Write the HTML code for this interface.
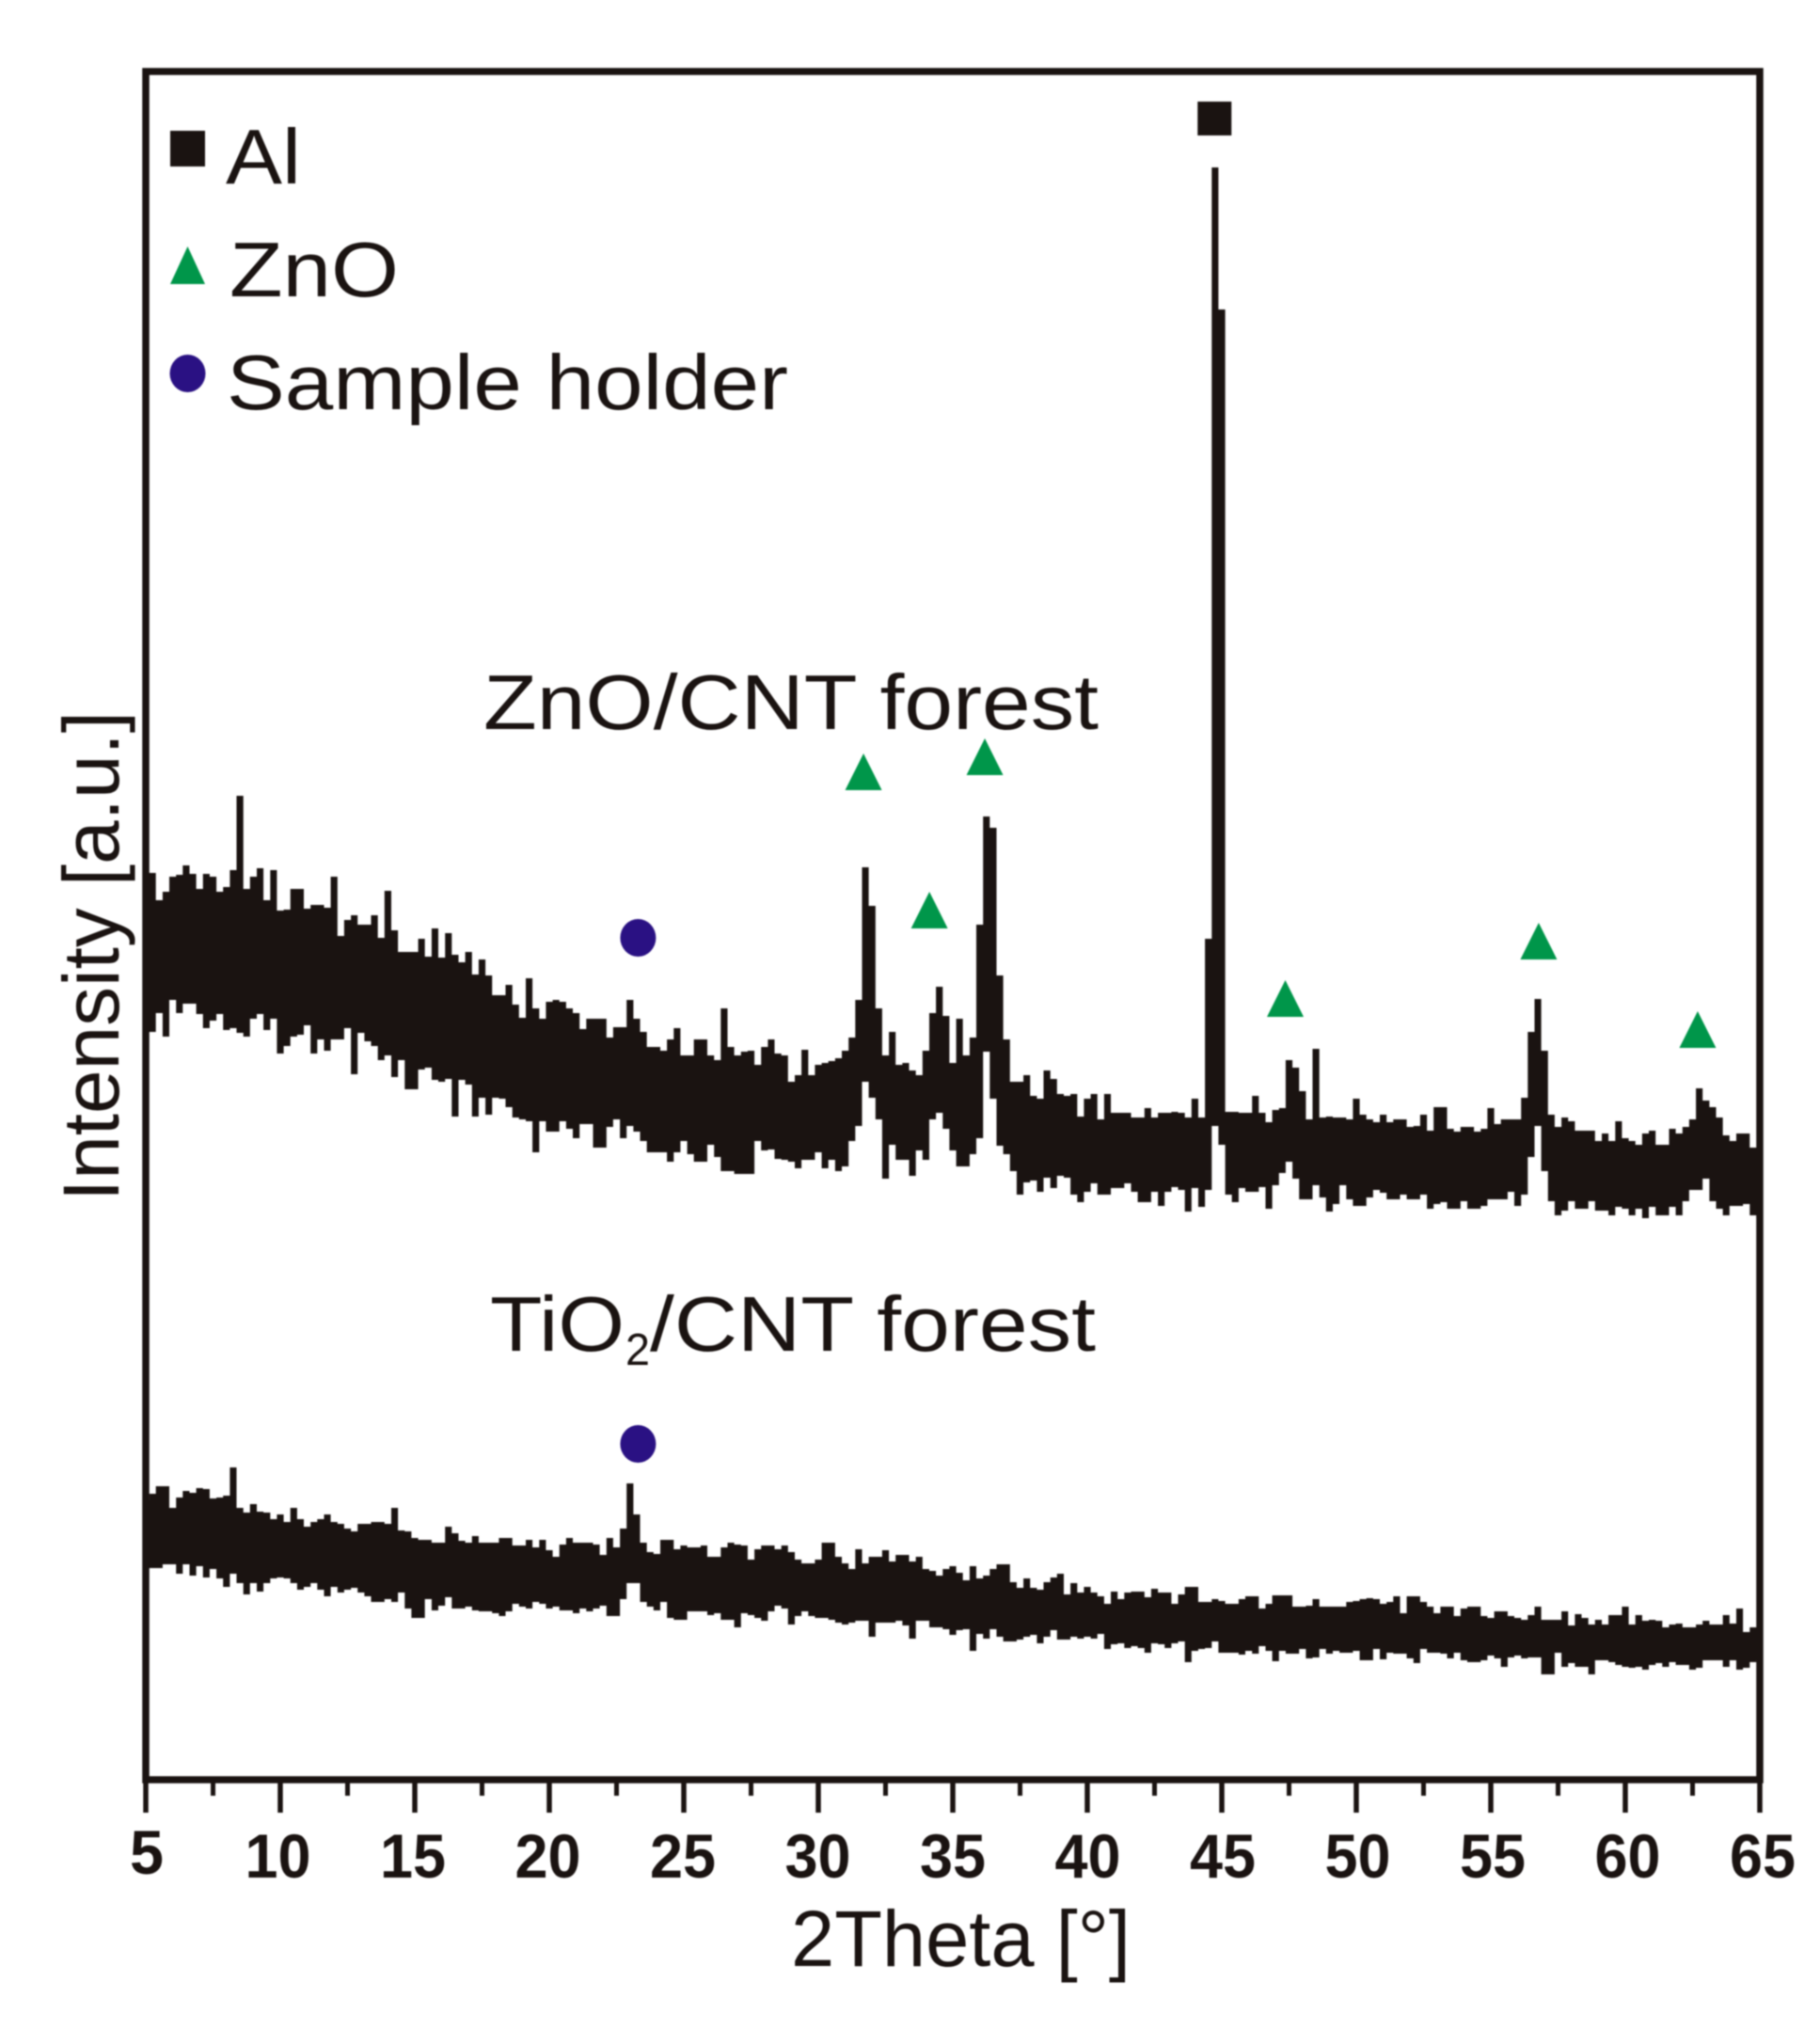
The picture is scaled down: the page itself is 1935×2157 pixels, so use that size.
<!DOCTYPE html>
<html lang="en">
<head>
<meta charset="utf-8">
<title>XRD patterns of ZnO/CNT and TiO2/CNT forests</title>
<style>
html,body{margin:0;padding:0;background:#fff;}
svg{display:block;filter:blur(0.7px);}
text{font-family:"Liberation Sans",Arial,sans-serif;fill:#1a1311;}
</style>
</head>
<body>
<svg id="chart" xmlns="http://www.w3.org/2000/svg" width="1935" height="2157" viewBox="0 0 1935 2157">
  <rect x="0" y="0" width="1935" height="2157" fill="#fff"/>
  <g id="traces"></g>
  <g id="marks"></g>
  <rect x="155" y="76" width="1716" height="1816" fill="none" stroke="#1a1311" stroke-width="7.5"/>
  <g id="ticks"></g>

  <g>
    <rect x="181" y="139" width="37" height="38" fill="#1a1311"/>
    <text x="240" y="195" font-size="83" textLength="80" lengthAdjust="spacingAndGlyphs">Al</text>
    <polygon points="199.5,262 218,302 181,302" fill="#00964a"/>
    <text x="244" y="315" font-size="83" textLength="180" lengthAdjust="spacingAndGlyphs">ZnO</text>
    <ellipse cx="199.5" cy="397" rx="19" ry="20" fill="#2a1183"/>
    <text x="241" y="435" font-size="83" textLength="597" lengthAdjust="spacingAndGlyphs">Sample holder</text>
  </g>

  <text x="514" y="775" font-size="83" textLength="654" lengthAdjust="spacingAndGlyphs">ZnO/CNT forest</text>
  <g>
    <text x="521" y="1436" font-size="83" textLength="143" lengthAdjust="spacingAndGlyphs">TiO</text>
    <text x="665" y="1451" font-size="48" textLength="26" lengthAdjust="spacingAndGlyphs">2</text>
    <text x="691" y="1436" font-size="83" textLength="474" lengthAdjust="spacingAndGlyphs">/CNT forest</text>
  </g>

  <text transform="translate(126,1277) rotate(-90)" font-size="84" textLength="521" lengthAdjust="spacingAndGlyphs">Intensity [a.u.]</text>
  <text x="841" y="2090" font-size="84" textLength="361" lengthAdjust="spacingAndGlyphs">2Theta [°]</text>
</svg>

<script>
// ---- chart data (2Theta in degrees, intensity in arbitrary units) ----
const thetaStart = 5;
const thetaStep = 0.25;
const xTickLabels = [5,10,15,20,25,30,35,40,45,50,55,60,65];
const xMinorTicks = [7.5,12.5,17.5,22.5,27.5,32.5,37.5,42.5,47.5,52.5,57.5,62.5];

const znoUpper = [
961,960,931,940,956,958,968,959,943,959,
956,940,945,963,1042,943,956,965,931,963,
920,921,943,943,922,926,926,923,956,893,
910,915,905,905,915,891,941,899,876,876,
876,890,871,901,870,896,873,865,876,852,
868,851,830,830,841,820,806,848,816,805,
823,825,823,816,811,794,805,805,805,785,
796,796,825,805,791,775,775,771,783,795,
766,766,783,783,766,761,816,775,766,770,
771,756,775,783,768,766,738,745,772,745,
756,758,760,763,771,785,825,966,925,816,
766,791,756,758,750,745,771,811,839,808,
758,805,766,785,905,1020,1008,851,783,738,
738,745,723,720,750,741,725,723,725,701,
720,725,698,725,705,705,705,700,700,710,
700,705,705,706,705,700,720,700,890,1710,
1559,706,706,705,705,723,705,695,708,710,
761,753,728,698,773,700,701,700,700,698,
720,703,698,695,703,695,698,698,690,691,
703,686,711,711,688,685,690,690,685,688,
710,693,698,698,698,721,791,826,771,703,
690,700,696,686,686,686,675,683,675,696,
678,675,671,683,686,671,671,688,683,690,
698,731,718,711,700,681,675,683,683,668,
668];
const znoLower = [
790,791,811,786,825,811,821,821,810,795,
803,810,793,795,790,786,805,810,793,805,
768,776,786,788,798,768,783,771,783,783,
795,746,790,781,776,761,766,743,761,730,
730,751,753,740,738,741,701,740,735,701,
721,703,721,720,711,700,698,696,663,696,
685,685,696,688,678,693,693,668,668,690,
698,678,691,685,675,663,663,663,653,663,
675,661,653,653,671,658,643,643,640,640,
640,675,665,666,656,655,653,646,655,655,
663,646,655,643,648,675,691,738,721,698,
635,671,655,655,638,665,655,698,705,688,
665,648,648,661,678,770,720,670,661,643,
618,631,633,621,636,625,638,636,618,610,
621,630,618,618,625,625,630,621,610,610,
621,606,621,626,623,600,625,605,623,691,
671,618,610,625,621,621,626,603,628,641,
653,635,613,613,628,615,600,608,628,613,
606,606,615,623,620,613,613,618,613,613,
618,603,608,610,603,603,611,603,603,606,
613,613,613,621,606,618,658,691,643,611,
596,601,611,603,603,611,601,601,596,605,
603,596,603,593,605,596,596,605,596,611,
623,623,635,611,603,596,606,606,608,596,
593];
const tioUpper = [
293,300,308,308,285,296,303,301,306,305,
295,296,298,328,285,280,289,281,280,273,
278,270,285,273,265,270,273,278,270,268,
263,260,268,268,270,270,268,285,261,260,
253,251,251,248,248,265,258,250,248,255,
248,248,248,253,253,245,245,251,243,251,
240,233,246,253,248,248,248,246,235,253,
243,263,311,278,248,238,236,251,251,241,
245,243,243,245,233,233,243,248,246,245,
230,241,245,245,241,245,238,230,226,226,
230,248,248,233,226,220,241,226,233,233,
240,228,235,235,228,233,220,218,213,220,
223,216,208,223,210,213,220,225,225,206,
200,210,200,198,206,211,215,193,205,195,
201,195,191,183,196,188,195,196,196,190,
199,195,195,183,193,201,201,185,185,188,
186,183,183,188,191,191,178,183,192,192,
192,180,180,181,188,180,180,180,180,185,
186,188,189,188,183,185,191,173,191,191,
185,180,173,180,180,170,178,180,180,170,
168,175,175,170,168,166,171,180,166,166,
166,175,160,172,168,161,166,161,171,171,
180,161,171,165,166,165,158,161,162,158,
158,161,165,161,161,171,162,178,153,158,
158];
const tioLower = [
220,221,221,225,225,215,225,213,223,211,
220,210,201,215,205,193,205,196,205,210,
211,210,205,198,201,205,198,191,201,195,
198,200,195,191,185,185,188,185,195,178,
168,168,188,176,181,190,178,178,180,176,
175,175,173,170,175,183,180,178,185,183,
178,180,176,176,173,178,175,178,181,170,
170,188,205,205,185,180,176,185,168,166,
166,175,175,175,171,173,166,166,158,173,
171,168,165,175,181,178,161,170,175,170,
168,168,166,163,161,163,165,165,148,163,
163,163,165,160,146,165,165,158,158,156,
150,155,156,133,151,146,156,148,143,143,
145,148,150,141,148,155,145,145,148,146,
148,146,151,135,140,141,136,138,136,131,
141,140,136,141,143,121,133,135,136,143,
131,131,131,129,133,130,138,133,122,133,
130,130,135,125,126,135,130,133,131,131,
133,123,123,135,124,131,130,130,125,120,
135,131,131,130,125,131,123,121,121,123,
128,125,116,126,128,125,126,126,108,108,
131,116,120,116,116,108,123,123,121,118,
116,115,116,113,118,120,116,121,118,118,
113,115,123,123,123,116,123,113,115,121,
123];

const alPeakTheta = [44.73];
const alPeakLevel = [1762];
const znoPeakTheta = [31.68,36.19,34.13,47.36,56.78,62.69];
const znoPeakLevel = [1048,1064,901,807,868,774];
const holderPeakTheta = [23.3,23.3];
const holderPeakLevel = [891,353];

// ---- axis functions ----
const xRange = [155,1871];
const xDomain = [5,65];
const yRange = [1892,75];
const yDomain = [-4,1813];
function xScale(t){ return xRange[0]+(t-xDomain[0])*(xRange[1]-xRange[0])/(xDomain[1]-xDomain[0]); }
function yScale(v){ return yRange[0]+(v-yDomain[0])*(yRange[1]-yRange[0])/(yDomain[1]-yDomain[0]); }

const NS = 'http://www.w3.org/2000/svg';
function make(tag, parent){
  const el = document.createElementNS(NS, tag);
  parent.appendChild(el);
  return el;
}

// ---- traces: stepped band between the upper and lower envelope ----
function bandPath(upper, lower){
  const half = xScale(thetaStart+thetaStep/2)-xScale(thetaStart);
  const n = upper.length;
  const clampX = function(x){ return Math.min(xRange[1], Math.max(xRange[0], x)); };
  let d = '';
  for(let i=0;i<n;i++){
    const x = xScale(thetaStart+i*thetaStep);
    const y = yScale(upper[i]);
    d += (i===0?'M':'L')+clampX(x-half).toFixed(1)+' '+y.toFixed(1)+'L'+clampX(x+half).toFixed(1)+' '+y.toFixed(1);
  }
  for(let i=n-1;i>=0;i--){
    const x = xScale(thetaStart+i*thetaStep);
    const y = yScale(lower[i]);
    d += 'L'+clampX(x+half).toFixed(1)+' '+y.toFixed(1)+'L'+clampX(x-half).toFixed(1)+' '+y.toFixed(1);
  }
  return d+'Z';
}
const traces = document.getElementById('traces');
const znoTrace = make('path', traces);
znoTrace.setAttribute('d', bandPath(znoUpper, znoLower));
znoTrace.setAttribute('fill', '#1a1311');


const tioTrace = make('path', traces);
tioTrace.setAttribute('d', bandPath(tioUpper, tioLower));
tioTrace.setAttribute('fill', '#1a1311');



// ---- peak markers ----
const marks = document.getElementById('marks');
alPeakTheta.forEach(function(t, i){
  const r = make('rect', marks);
  r.setAttribute('x', xScale(t)-18);
  r.setAttribute('y', yScale(alPeakLevel[i])-18);
  r.setAttribute('width', 36);
  r.setAttribute('height', 36);
  r.setAttribute('fill', '#1a1311');
  
  
});
znoPeakTheta.forEach(function(t, i){
  const p = make('polygon', marks);
  const cx = xScale(t), by = yScale(znoPeakLevel[i]);
  p.setAttribute('points', cx+','+(by-39)+' '+(cx+19.5)+','+by+' '+(cx-19.5)+','+by);
  p.setAttribute('fill', '#00964a');
  
  
});
holderPeakTheta.forEach(function(t, i){
  const c = make('ellipse', marks);
  c.setAttribute('cx', xScale(t));
  c.setAttribute('cy', yScale(holderPeakLevel[i]));
  c.setAttribute('rx', 19);
  c.setAttribute('ry', 20);
  c.setAttribute('fill', '#2a1183');
  
  
});

// ---- x axis ticks and labels ----
const ticks = document.getElementById('ticks');
const axisY = yRange[0];
xTickLabels.forEach(function(t, i){
  const l = make('line', ticks);
  l.setAttribute('x1', xScale(t));
  l.setAttribute('x2', xScale(t));
  l.setAttribute('y1', axisY);
  l.setAttribute('y2', axisY+35);
  l.setAttribute('stroke', '#1a1311');
  l.setAttribute('stroke-width', 5.5);
  
  
  const txt = make('text', ticks);
  txt.textContent = String(t);
  const w = String(t).length === 1 ? 36 : 70;
  const nudge = i === 0 ? 1 : (t-35)*0.1;
  txt.setAttribute('x', xScale(t)+nudge-w/2);
  txt.setAttribute('y', i === 0 ? 1992 : 1996);
  txt.setAttribute('font-size', 66);
  txt.setAttribute('font-weight', 'bold');
  txt.setAttribute('textLength', w);
  txt.setAttribute('lengthAdjust', 'spacingAndGlyphs');
  
  
});
xMinorTicks.forEach(function(t){
  const l = make('line', ticks);
  l.setAttribute('x1', xScale(t));
  l.setAttribute('x2', xScale(t));
  l.setAttribute('y1', axisY);
  l.setAttribute('y2', axisY+17);
  l.setAttribute('stroke', '#1a1311');
  l.setAttribute('stroke-width', 5);
  
  
});
</script>
</body>
</html>
